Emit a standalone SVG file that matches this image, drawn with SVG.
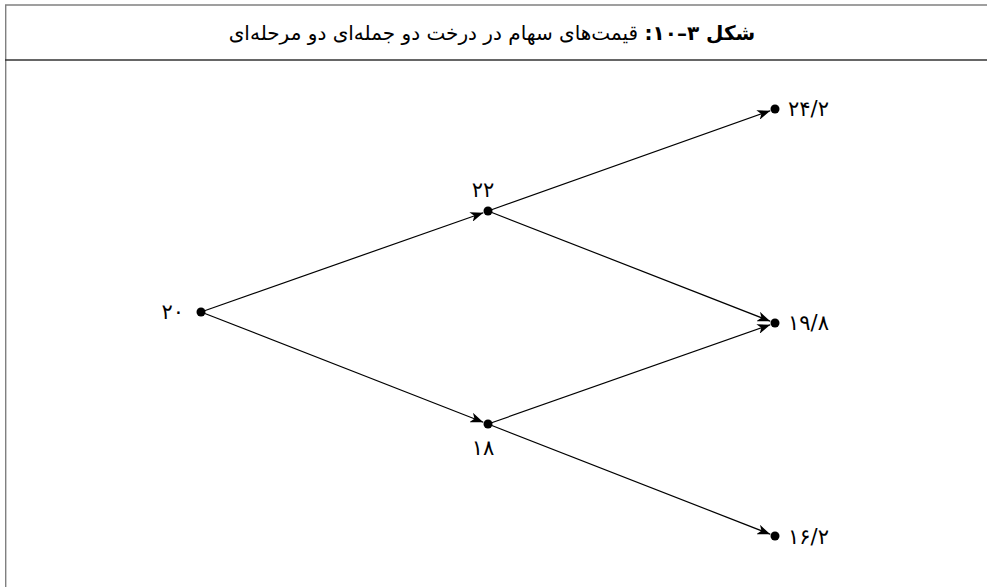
<svg xmlns="http://www.w3.org/2000/svg" width="987" height="587" viewBox="0 0 987 587">
<style>
.frame{fill:none;stroke:#808080;stroke-width:1.4}
.div{stroke:#333;stroke-width:1.4}
.edge{stroke:#000;stroke-width:1.2;fill:none;marker-end:url(#arr)}
.dot{fill:#000}
.lbl{font-family:"DejaVu Sans",sans-serif;font-size:21px;fill:#000}
.title{font-family:"DejaVu Sans",sans-serif;font-size:20px;fill:#000}
</style>
<defs>
<marker id="arr" viewBox="0 0 13 10" refX="13" refY="5" markerWidth="13" markerHeight="10" markerUnits="userSpaceOnUse" orient="auto">
<path d="M0,0 L13,5 L0,10 L3.5,5 Z" fill="#000"/>
</marker>
</defs>
<rect x="0" y="0" width="987" height="587" fill="#fff"/>
<g id="frame">
<polyline class="frame" points="5.7,587 5.7,5 987,5"/>
<line class="div" x1="5" y1="60" x2="987" y2="60"/>
</g>
<g id="title">
<text class="title" x="492" y="40" text-anchor="middle" direction="rtl"><tspan font-weight="bold">شکل ۳–۱۰:</tspan> قیمت‌های سهام در درخت دو جمله‌ای دو مرحله‌ای</text>
</g>
<g id="connectors">
<line class="edge" x1="201" y1="312" x2="483.3" y2="212.7"/>
<line class="edge" x1="201" y1="312" x2="483.3" y2="422.2"/>
<line class="edge" x1="488" y1="211" x2="770.3" y2="110.7"/>
<line class="edge" x1="488" y1="211" x2="770.3" y2="321.2"/>
<line class="edge" x1="488" y1="424" x2="770.3" y2="324.7"/>
<line class="edge" x1="488" y1="424" x2="770.3" y2="534.2"/>
</g>
<g id="n20"><circle class="dot" cx="201" cy="312" r="4.5"/><text class="lbl" x="184" y="319" text-anchor="end">۲۰</text></g>
<g id="n22"><circle class="dot" cx="488" cy="211" r="4.5"/><text class="lbl" x="483" y="197" text-anchor="middle">۲۲</text></g>
<g id="n18"><circle class="dot" cx="488" cy="424" r="4.5"/><text class="lbl" x="483" y="455" text-anchor="middle">۱۸</text></g>
<g id="n242"><circle class="dot" cx="775" cy="109" r="4.5"/><text class="lbl" x="788" y="116">۲۴/۲</text></g>
<g id="n198"><circle class="dot" cx="775" cy="323" r="4.5"/><text class="lbl" x="788" y="330">۱۹/۸</text></g>
<g id="n162"><circle class="dot" cx="775" cy="536" r="4.5"/><text class="lbl" x="788" y="544">۱۶/۲</text></g>
</svg>
